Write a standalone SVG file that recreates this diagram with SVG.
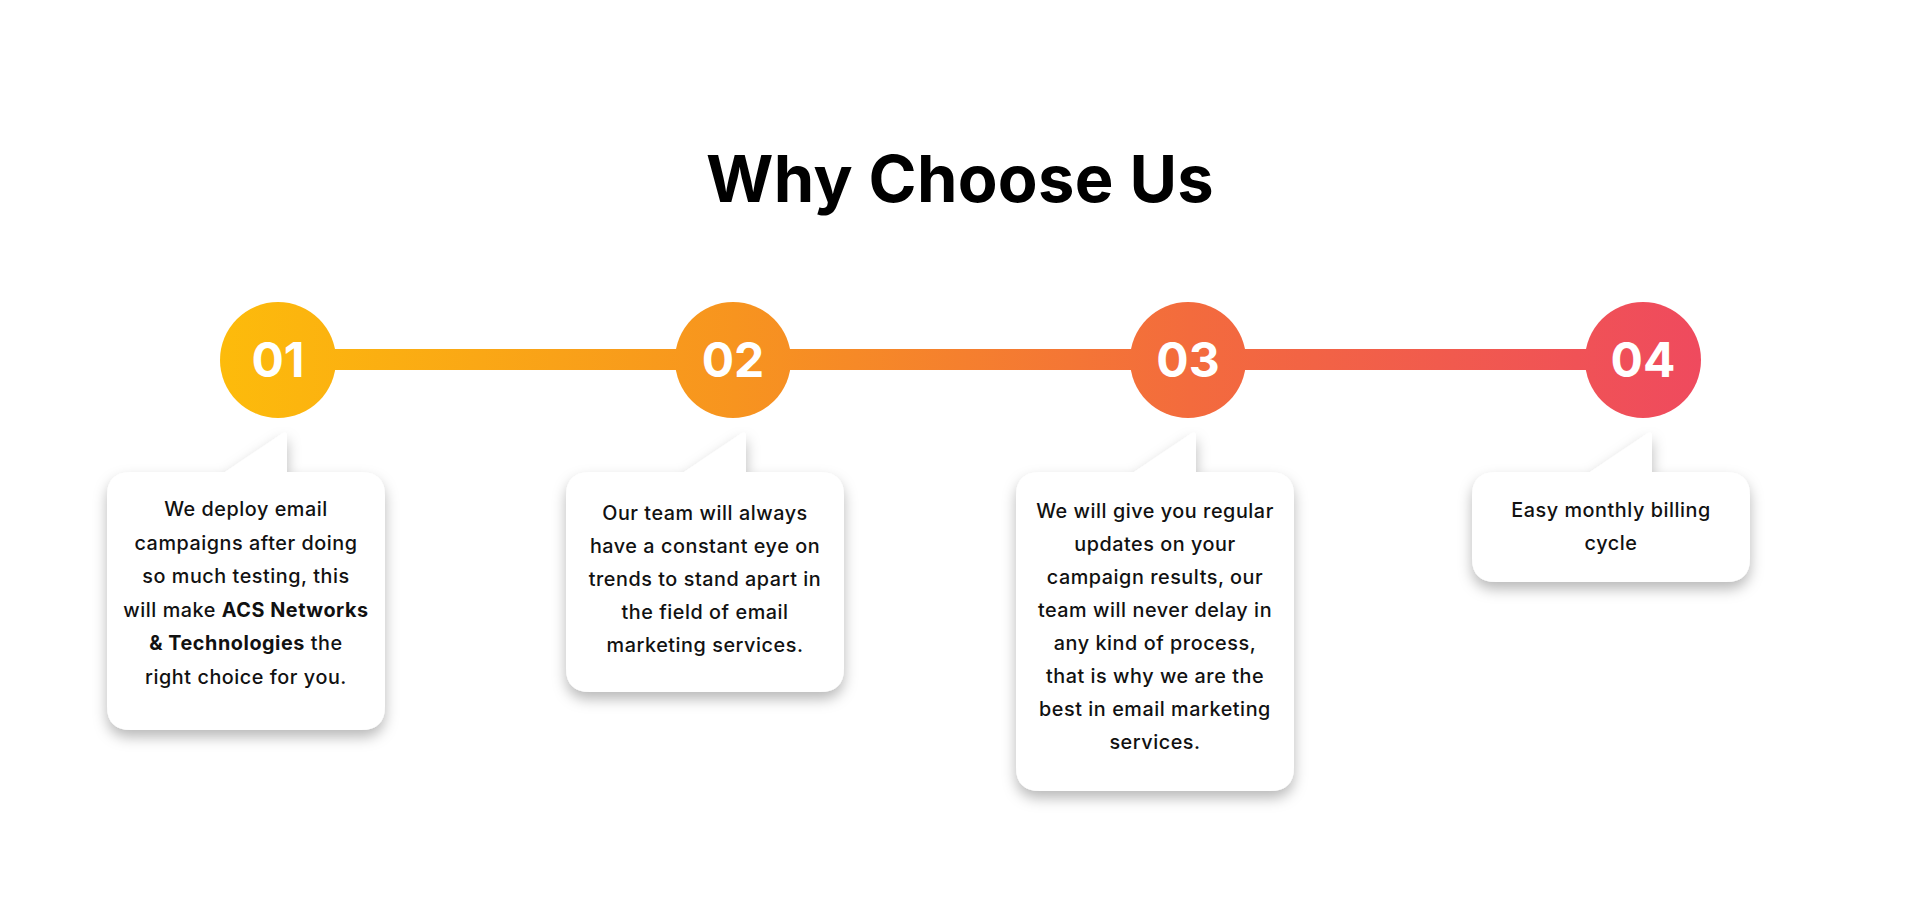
<svg xmlns="http://www.w3.org/2000/svg" width="1920" height="909" viewBox="0 0 1920 909">
  <defs>
    <linearGradient id="g" gradientUnits="userSpaceOnUse" x1="220" y1="0" x2="1701" y2="0">
      <stop offset="0" stop-color="#FDBB0B"/>
      <stop offset="0.348" stop-color="#F7941F"/>
      <stop offset="0.655" stop-color="#F36B3D"/>
      <stop offset="1" stop-color="#EF4A5E"/>
    </linearGradient>
    <filter id="sh" x="-20%" y="-20%" width="140%" height="150%">
      <feDropShadow dx="0" dy="7" stdDeviation="7" flood-color="#000" flood-opacity="0.28"/>
    </filter>
  </defs>
  <style>
    .title{font-family:Inter,"Liberation Sans",sans-serif;font-weight:700;font-size:65px;fill:#000;text-anchor:middle;letter-spacing:0.3px}
    .num{font-family:Inter,"Liberation Sans",sans-serif;font-weight:700;font-size:48px;fill:#fff;text-anchor:middle}
    .body{font-family:Inter,"Liberation Sans",sans-serif;font-weight:500;font-size:19.8px;fill:#111;text-anchor:middle;letter-spacing:0.55px}
    .b{font-weight:700}
    .card{fill:#fff}
  </style>
  <rect width="1920" height="909" fill="#fff"/>
  <text class="title" x="960" y="202">Why Choose Us</text>

  <g id="connectors">
    <rect x="278" y="349" width="1365" height="21" fill="url(#g)"/>
  </g>

  <g id="step1">
    <circle cx="278" cy="360" r="58" fill="url(#g)"/>
    <text class="num" x="278" y="377">01</text>
    <path class="card" filter="url(#sh)" d="M131 472 H225 L283 433 Q287 431 287 436 V472 H361 Q385 472 385 496 V706 Q385 730 361 730 H131 Q107 730 107 706 V496 Q107 472 131 472 Z"/>
    <text class="body" x="246" y="516">We deploy email</text>
    <text class="body" x="246" y="549.5">campaigns after doing</text>
    <text class="body" x="246" y="583">so much testing, this</text>
    <text class="body" x="246" y="616.5">will make <tspan class="b">ACS Networks</tspan></text>
    <text class="body" x="246" y="650"><tspan class="b">&amp; Technologies</tspan> the</text>
    <text class="body" x="246" y="683.5">right choice for you.</text>
  </g>

  <g id="step2">
    <circle cx="733" cy="360" r="58" fill="url(#g)"/>
    <text class="num" x="733" y="377">02</text>
    <path class="card" filter="url(#sh)" d="M590 472 H684 L742 433 Q746 431 746 436 V472 H820 Q844 472 844 496 V668 Q844 692 820 692 H590 Q566 692 566 668 V496 Q566 472 590 472 Z"/>
    <text class="body" x="705" y="520">Our team will always</text>
    <text class="body" x="705" y="553">have a constant eye on</text>
    <text class="body" x="705" y="586">trends to stand apart in</text>
    <text class="body" x="705" y="619">the field of email</text>
    <text class="body" x="705" y="652">marketing services.</text>
  </g>

  <g id="step3">
    <circle cx="1188" cy="360" r="58" fill="url(#g)"/>
    <text class="num" x="1188" y="377">03</text>
    <path class="card" filter="url(#sh)" d="M1040 472 H1134 L1192 433 Q1196 431 1196 436 V472 H1270 Q1294 472 1294 496 V767 Q1294 791 1270 791 H1040 Q1016 791 1016 767 V496 Q1016 472 1040 472 Z"/>
    <text class="body" x="1155" y="518">We will give you regular</text>
    <text class="body" x="1155" y="551">updates on your</text>
    <text class="body" x="1155" y="584">campaign results, our</text>
    <text class="body" x="1155" y="617">team will never delay in</text>
    <text class="body" x="1155" y="650">any kind of process,</text>
    <text class="body" x="1155" y="683">that is why we are the</text>
    <text class="body" x="1155" y="716">best in email marketing</text>
    <text class="body" x="1155" y="749">services.</text>
  </g>

  <g id="step4">
    <circle cx="1643" cy="360" r="58" fill="url(#g)"/>
    <text class="num" x="1643" y="377">04</text>
    <path class="card" filter="url(#sh)" d="M1496 472 H1590 L1648 433 Q1652 431 1652 436 V472 H1726 Q1750 472 1750 496 V558 Q1750 582 1726 582 H1496 Q1472 582 1472 558 V496 Q1472 472 1496 472 Z"/>
    <text class="body" x="1611" y="517">Easy monthly billing</text>
    <text class="body" x="1611" y="550">cycle</text>
  </g>
</svg>
